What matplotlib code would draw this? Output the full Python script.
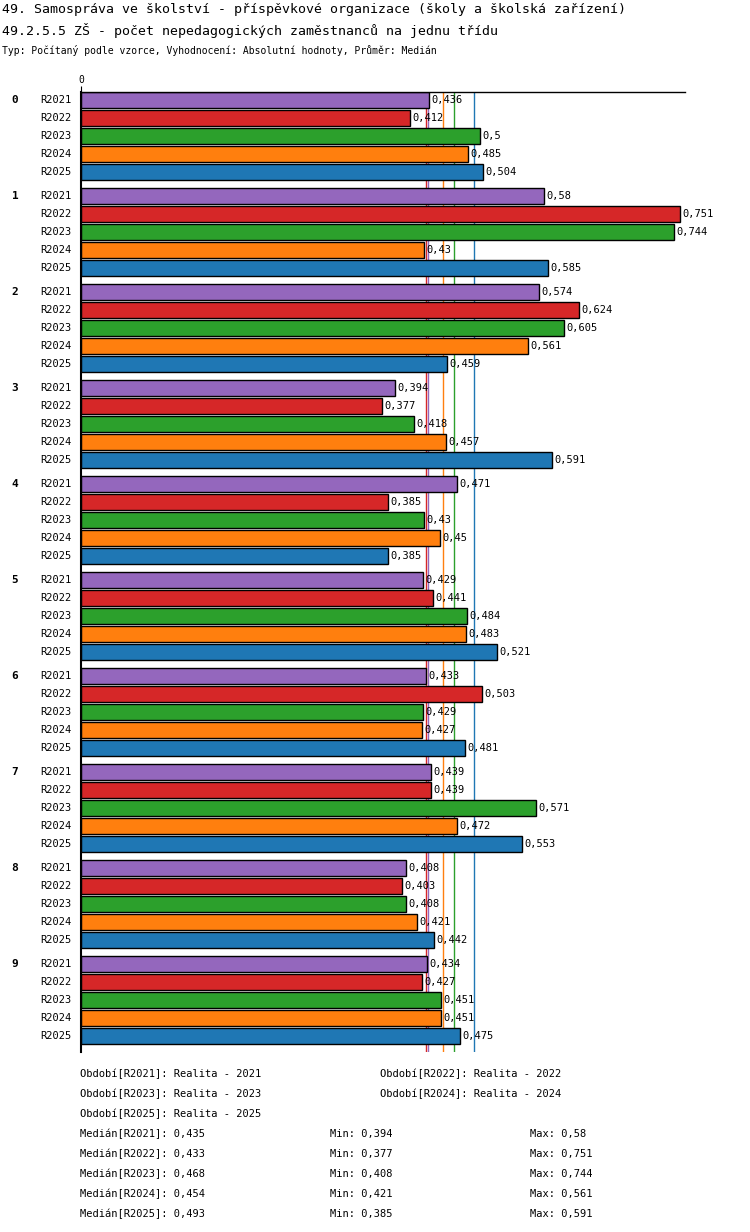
import matplotlib.pyplot as plt

groups = ['0', '1', '2', '3', '4', '5', '6', '7', '8', '9']
periods = ['R2021', 'R2022', 'R2023', 'R2024', 'R2025']
colors = ['#9467bd', '#d62728', '#2ca02c', '#ff7f0e', '#1f77b4']
values = [
    [0.436, 0.412, 0.5, 0.485, 0.504],
    [0.58, 0.751, 0.744, 0.43, 0.585],
    [0.574, 0.624, 0.605, 0.561, 0.459],
    [0.394, 0.377, 0.418, 0.457, 0.591],
    [0.471, 0.385, 0.43, 0.45, 0.385],
    [0.429, 0.441, 0.484, 0.483, 0.521],
    [0.433, 0.503, 0.429, 0.427, 0.481],
    [0.439, 0.439, 0.571, 0.472, 0.553],
    [0.408, 0.403, 0.408, 0.421, 0.442],
    [0.434, 0.427, 0.451, 0.451, 0.475],
]
medians = [0.435, 0.433, 0.468, 0.454, 0.493]
mins = [0.394, 0.377, 0.408, 0.421, 0.385]
maxs = [0.58, 0.751, 0.744, 0.561, 0.591]
realita = ['Realita - 2021', 'Realita - 2022', 'Realita - 2023', 'Realita - 2024', 'Realita - 2025']

W, H = 750, 1232
plt.rcParams['font.family'] = 'DejaVu Sans Mono'
fig = plt.figure(figsize=(W / 100, H / 100), dpi=100)
ax = fig.add_axes([81 / W, 1 - 1052 / H, (685 - 81) / W, (1052 - 92) / H])
ax.set_xlim(0, (685 - 81) / 797.6)
ax.set_ylim(952, -8)
for s in ['right', 'bottom']:
    ax.spines[s].set_visible(False)
ax.spines['left'].set_linewidth(1.5)
ax.spines['top'].set_linewidth(1)
ax.set_xticks([0])
ax.xaxis.tick_top()
ax.tick_params(axis='x', length=4, labelsize=7, pad=1)
ax.set_yticks([])

for k, m in enumerate(medians):
    ax.axvline(m, color=colors[k], lw=1, zorder=1)

for g, row in enumerate(values):
    for k, v in enumerate(row):
        y = g * 96 + k * 18
        ax.barh(y, v, height=16, color=colors[k], edgecolor='black', lw=1, zorder=2)
        ax.text(v + 0.003, y, f'{v:g}'.replace('.', ','), va='center', fontsize=7.5, zorder=3)
        ax.text(-0.012, y, periods[k], va='center', ha='right', fontsize=7.5)
    ax.text(-0.087, g * 96, groups[g], va='center', ha='left', fontsize=8, fontweight='bold')

fig.text(2 / W, 1 - 9 / H, '49. Samospráva ve školství - příspěvkové organizace (školy a školská zařízení)',
         fontsize=9.5, va='center')
fig.text(2 / W, 1 - 30 / H, '49.2.5.5 ZŠ - počet nepedagogických zaměstnanců na jednu třídu',
         fontsize=9.5, va='center')
fig.text(2 / W, 1 - 51 / H, 'Typ: Počítaný podle vzorce, Vyhodnocení: Absolutní hodnoty, Průměr: Medián',
         fontsize=7, va='center')

for k in range(5):
    x = 80 if k % 2 == 0 else 380
    y = 1074 + (k // 2) * 20
    fig.text(x / W, 1 - y / H, f'Období[{periods[k]}]: {realita[k]}', fontsize=7.5, va='center')
for k in range(5):
    y = 1134 + k * 20
    fig.text(80 / W, 1 - y / H, f'Medián[{periods[k]}]: {medians[k]:g}'.replace('0.', '0,'), fontsize=7.5, va='center')
    fig.text(330 / W, 1 - y / H, f'Min: {mins[k]:g}'.replace('.', ','), fontsize=7.5, va='center')
    fig.text(530 / W, 1 - y / H, f'Max: {maxs[k]:g}'.replace('.', ','), fontsize=7.5, va='center')

fig.savefig('out.png', dpi=100)
